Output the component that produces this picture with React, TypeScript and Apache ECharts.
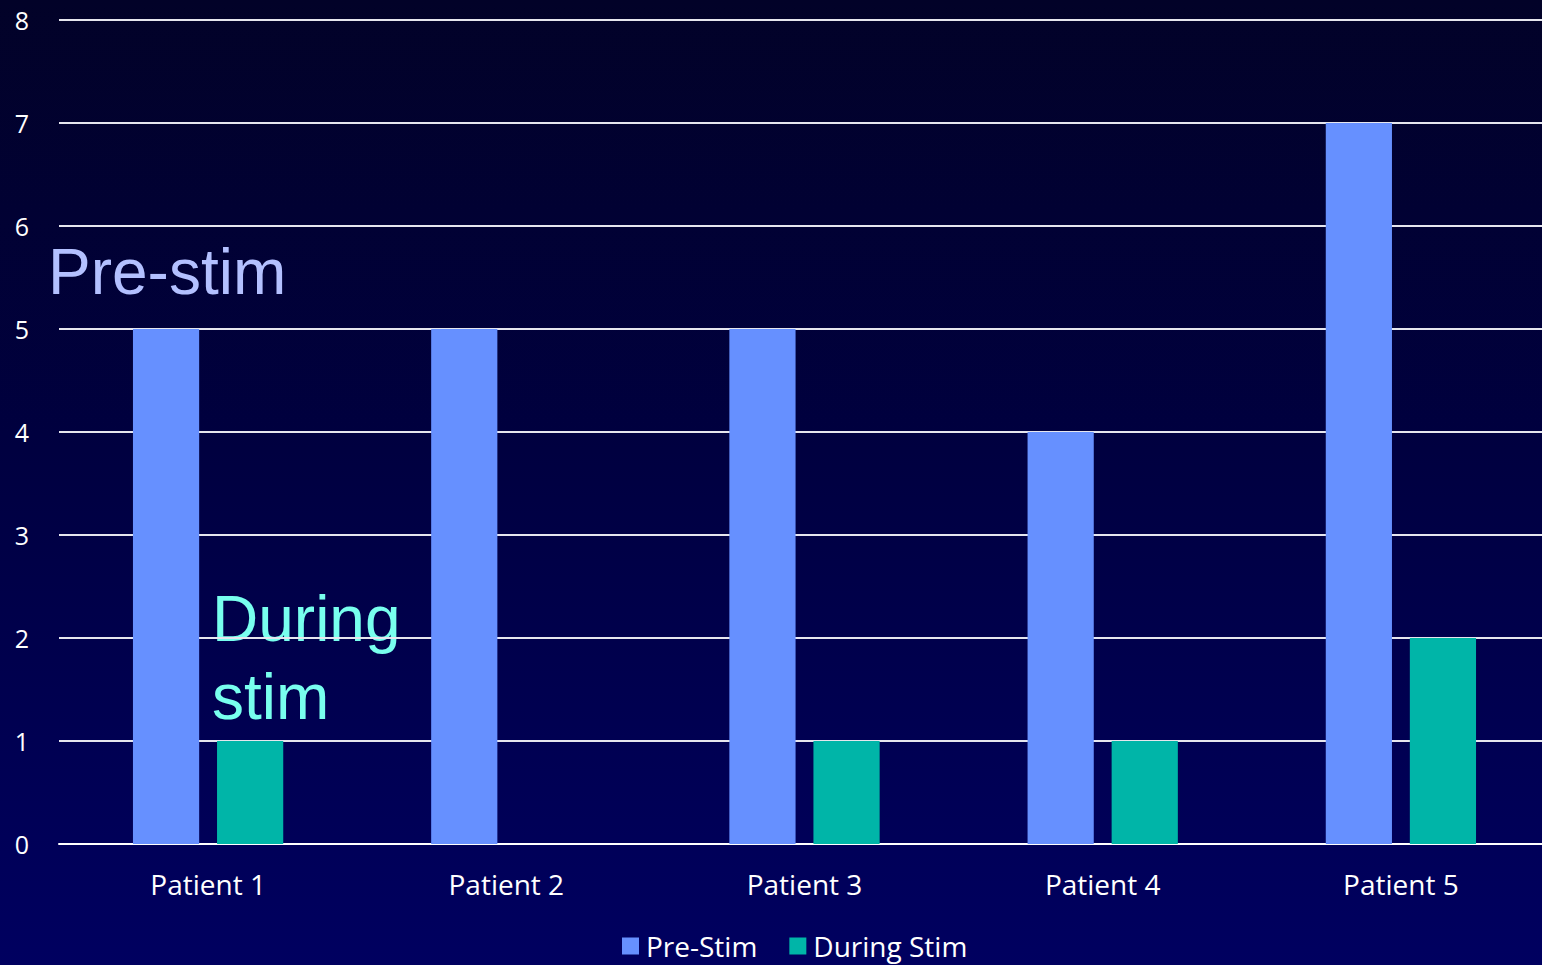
import React, { useEffect, useRef } from "react";
import * as echarts from "echarts";

// Seizure counts per patient before and during stimulation
const patients = ["Patient 1", "Patient 2", "Patient 3", "Patient 4", "Patient 5"];
const preStim = [5, 5, 5, 4, 7];
const duringStim = [1, 0, 1, 1, 2];
const seriesNames = ["Pre-Stim", "During Stim"];
const yTicks = { min: 0, max: 8, interval: 1 };

const LABEL_FONT = "'Open Sans', 'Noto Sans', sans-serif";
const NOTE_FONT = "'Liberation Sans', Arial, sans-serif";

export default function App() {
  const ref = useRef<HTMLDivElement>(null);

  useEffect(() => {
    if (!ref.current) return;
    const chart = echarts.init(ref.current, undefined, { renderer: "svg" });
    chart.setOption({
      animation: false,
      backgroundColor: {
        type: "linear",
        x: 0,
        y: 0,
        x2: 0,
        y2: 1,
        colorStops: [
          { offset: 0, color: "#020228" },
          { offset: 0.45, color: "#00003f" },
          { offset: 1, color: "#000060" },
        ],
      },
      grid: { left: 59, right: 0, top: 20, bottom: 121, containLabel: false },
      legend: {
        bottom: 0,
        left: 617,
        itemWidth: 17,
        itemHeight: 17,
        itemGap: 32,
        icon: "rect",
        textStyle: { color: "#ffffff", fontSize: 28, fontFamily: LABEL_FONT, padding: [0, 0, 0, 2] },
        data: seriesNames,
      },
      xAxis: {
        type: "category",
        data: patients,
        axisLine: { show: true, lineStyle: { color: "#ffffff", width: 2 } },
        axisTick: { show: false },
        axisLabel: {
          color: "#ffffff",
          fontSize: 28,
          fontFamily: LABEL_FONT,
          margin: 26,
        },
      },
      yAxis: {
        type: "value",
        min: yTicks.min,
        max: yTicks.max,
        interval: yTicks.interval,
        axisLine: { show: false },
        axisTick: { show: false },
        splitLine: { lineStyle: { color: "#e6e6ee", width: 2 } },
        axisLabel: {
          color: "#ffffff",
          fontSize: 25,
          fontFamily: LABEL_FONT,
          margin: 30,
        },
      },
      series: [
        {
          name: seriesNames[0],
          type: "bar",
          data: preStim,
          barWidth: "22.2%",
          barGap: "27%",
          itemStyle: { color: "#6690ff" },
        },
        {
          name: seriesNames[1],
          type: "bar",
          data: duringStim,
          barWidth: "22.2%",
          itemStyle: { color: "#00b5a8" },
        },
      ],
      graphic: [
        {
          type: "text",
          left: 48,
          top: 240,
          style: {
            text: "Pre-stim",
            fill: "#b3c0ff",
            fontSize: 64,
            fontFamily: NOTE_FONT,
          },
        },
        {
          type: "text",
          left: 212,
          top: 580,
          style: {
            text: "During\nstim",
            fill: "#78ffee",
            fontSize: 64,
            lineHeight: 78,
            fontFamily: NOTE_FONT,
          },
        },
      ],
    });
    return () => chart.dispose();
  }, []);

  // The plot area runs a few pixels past the visible right edge,
  // so the chart is slightly wider than its clipping frame.
  return (
    <div
      style={{
        position: "fixed",
        left: 0,
        top: 0,
        width: 1542,
        height: 965,
        overflow: "hidden",
      }}
    >
      <div ref={ref} style={{ width: 1550, height: 965 }} />
    </div>
  );
}
